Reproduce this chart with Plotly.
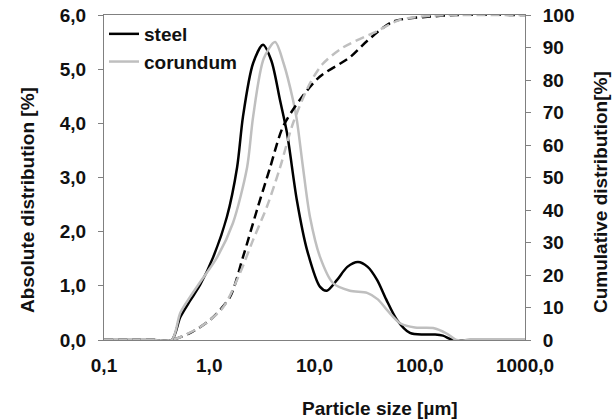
import plotly.graph_objects as go

# Particle size [µm]
steel_x = [0.1, 0.2, 0.3, 0.44, 0.53, 0.66, 0.82, 1.09, 1.47, 1.84, 2.09, 2.6, 3.24, 3.9, 4.7, 5.48, 6.8, 8.5, 11.3, 13.1, 16.4, 20.5, 25.9, 32.0, 39.3, 48.0, 60.8, 80.7, 110, 140, 166, 207, 300, 500, 1000]
steel_abs = [0.0, 0.0, 0.0, 0.0, 0.42, 0.73, 1.02, 1.53, 2.27, 3.19, 4.12, 5.1, 5.45, 5.15, 4.43, 3.82, 2.58, 1.66, 0.98, 0.91, 1.11, 1.35, 1.44, 1.35, 1.11, 0.75, 0.37, 0.13, 0.1, 0.1, 0.08, 0.0, 0.0, 0.0, 0.0]

cor_x = [0.1, 0.2, 0.3, 0.44, 0.53, 0.66, 0.82, 1.19, 1.68, 2.29, 2.61, 3.3, 4.22, 5.1, 6.25, 6.8, 7.77, 9.06, 11.3, 15.0, 21.7, 31.6, 40.0, 49.0, 65.0, 90.0, 134, 180, 223, 300, 500, 1000]
cor_abs = [0.0, 0.0, 0.0, 0.0, 0.5, 0.8, 1.07, 1.53, 2.16, 3.19, 4.12, 5.2, 5.5, 5.1, 4.43, 4.06, 3.19, 2.27, 1.53, 1.05, 0.91, 0.87, 0.75, 0.55, 0.31, 0.23, 0.22, 0.12, 0.0, 0.0, 0.0, 0.0]

steel_cum_x = [0.1, 0.2, 0.3, 0.44, 0.66, 1.02, 1.57, 2.09, 2.84, 3.78, 5.0, 7.3, 11.2, 21.7, 31.6, 56.0, 126, 220, 1000]
steel_cum = [0, 0, 0, 0, 2.2, 6.2, 13.2, 25.5, 40.0, 53.0, 65.5, 74.0, 81.0, 87.0, 92.0, 98.0, 99.5, 100, 100]

cor_cum_x = [0.1, 0.2, 0.3, 0.44, 0.82, 1.35, 1.96, 2.61, 3.53, 4.7, 6.25, 9.06, 12.0, 18.6, 39.0, 65.0, 130, 230, 1000]
cor_cum = [0, 0, 0, 0, 4.0, 10.0, 20.6, 30.8, 41.0, 53.0, 66.7, 79.0, 85.0, 90.0, 95.0, 98.5, 99.8, 100, 100]

x_ticks = [0.1, 1, 10, 100, 1000]
x_ticktext = ["0,1", "1,0", "10,0", "100,0", "1000,0"]
y_ticks = [0, 1, 2, 3, 4, 5, 6]
y_ticktext = ["0,0", "1,0", "2,0", "3,0", "4,0", "5,0", "6,0"]
y2_ticks = list(range(0, 101, 10))

BLACK = "#000000"
GRAY = "#bfbfbf"
FONT = "Liberation Sans"
TXT = "#111111"
FS = 19

fig = go.Figure()
fig.add_trace(go.Scatter(x=steel_x, y=steel_abs, name="steel", mode="lines",
                         line=dict(color=BLACK, width=2.5, shape="spline", smoothing=0.8)))
fig.add_trace(go.Scatter(x=cor_x, y=cor_abs, name="corundum", mode="lines",
                         line=dict(color=GRAY, width=2.5, shape="spline", smoothing=0.8)))
fig.add_trace(go.Scatter(x=steel_cum_x, y=steel_cum, name="steel cum", mode="lines", yaxis="y2",
                         showlegend=False,
                         line=dict(color=BLACK, width=2.5, dash="9px,5px", shape="spline", smoothing=0.8)))
fig.add_trace(go.Scatter(x=cor_cum_x, y=cor_cum, name="corundum cum", mode="lines", yaxis="y2",
                         showlegend=False,
                         line=dict(color=GRAY, width=2.5, dash="9px,5px", shape="spline", smoothing=0.8)))

tickfont = dict(family=FONT, size=FS, color=TXT, weight="bold")

fig.update_layout(
    width=616, height=420,
    margin=dict(l=104, r=91, t=15, b=80, autoexpand=False),
    paper_bgcolor="white", plot_bgcolor="white",
    font=dict(family=FONT, size=FS, color=TXT),
    showlegend=True,
    legend=dict(x=0.0, y=1.0, xanchor="left", yanchor="top", bgcolor="rgba(0,0,0,0)",
                font=dict(family=FONT, size=FS, color=TXT, weight="bold"),
                itemwidth=30, tracegroupgap=0),
    xaxis=dict(type="log", range=[-1, 3], tickvals=x_ticks, ticktext=x_ticktext,
               showgrid=False, zeroline=False, showline=True, linecolor="#808080", linewidth=1,
               mirror=True, ticks="", ticklabelstandoff=8, tickfont=tickfont, automargin=False),
    yaxis=dict(range=[0, 6], tickvals=y_ticks, ticktext=y_ticktext, showgrid=False, zeroline=False,
               showline=True, linecolor="#808080", linewidth=1, ticks="outside", ticklen=5,
               tickcolor="#808080", ticklabelstandoff=8, tickfont=tickfont, automargin=False),
    yaxis2=dict(range=[0, 100], tickvals=y2_ticks, overlaying="y", side="right", showgrid=False,
                zeroline=False, showline=True, linecolor="#808080", linewidth=1, ticks="outside",
                ticklen=5, tickcolor="#808080", ticklabelstandoff=8, tickfont=tickfont,
                automargin=False),
)

fig.add_annotation(text="Particle size [µm]", xref="paper", yref="paper", x=0.656, y=-0.212,
                   showarrow=False, xanchor="center", yanchor="middle",
                   font=dict(family=FONT, size=FS, color=TXT, weight="bold"))
fig.add_annotation(text="Absolute distribution [%]", xref="paper", yref="paper",
                   x=(27 - 104) / 421, y=(340 - 200) / 325, textangle=-90,
                   showarrow=False, xanchor="center", yanchor="middle",
                   font=dict(family=FONT, size=FS, color=TXT, weight="bold"))
fig.add_annotation(text="Cumulative distribution[%]", xref="paper", yref="paper",
                   x=(600 - 104) / 421, y=(340 - 192) / 325, textangle=-90,
                   showarrow=False, xanchor="center", yanchor="middle",
                   font=dict(family=FONT, size=FS, color=TXT, weight="bold"))

fig.write_html("out.html")
